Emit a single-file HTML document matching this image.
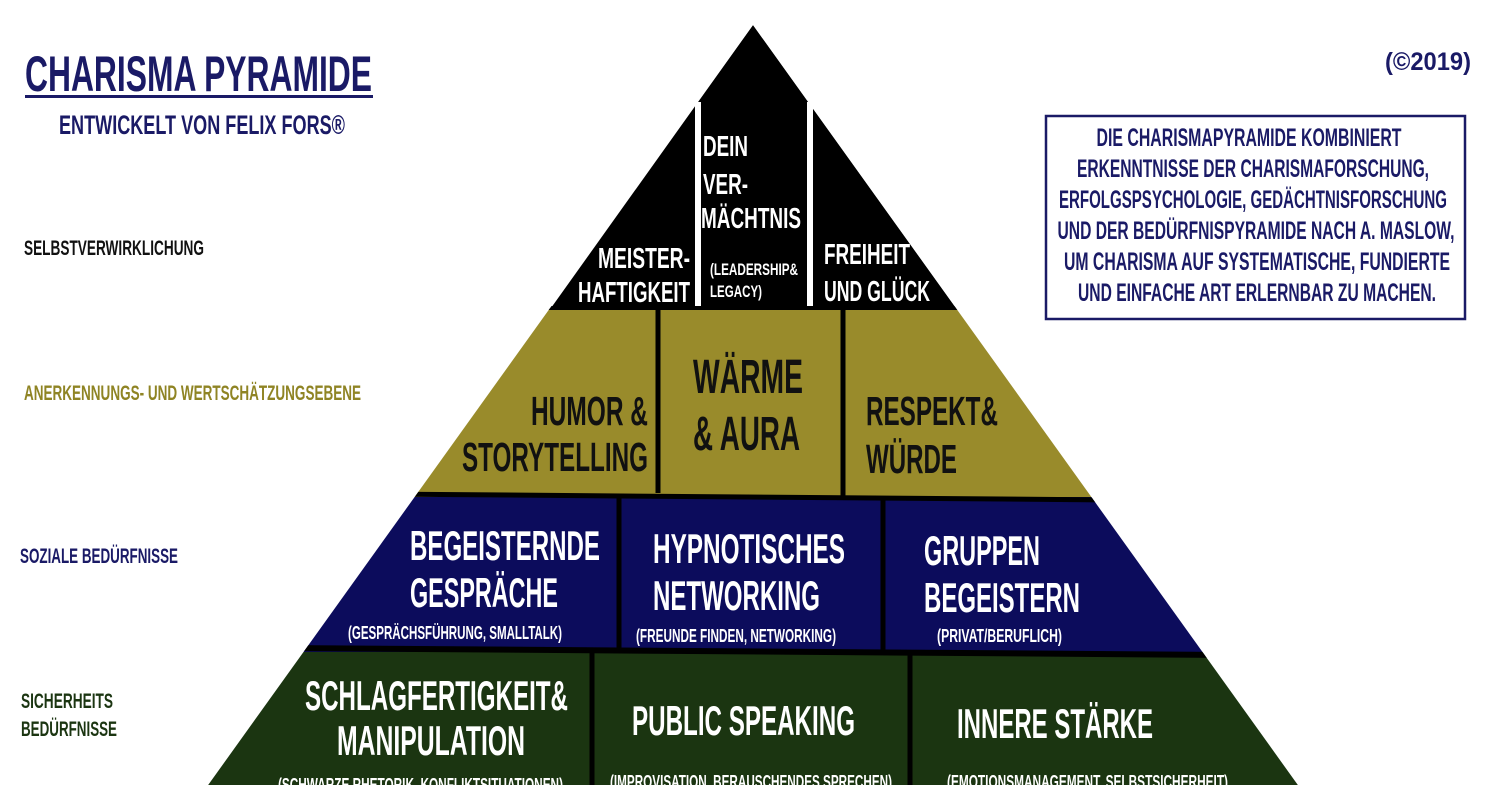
<!DOCTYPE html>
<html><head><meta charset="utf-8"><style>
html,body{margin:0;padding:0;background:#fff;}
svg{display:block;}
text{font-family:"Liberation Sans Narrow","Liberation Sans",sans-serif;font-weight:bold;}
</style></head><body>
<svg width="1500" height="785" viewBox="0 0 1500 785" xmlns="http://www.w3.org/2000/svg">
<defs><clipPath id="pyr"><polygon points="753,25 1300,788 206,788"/></clipPath></defs>
<g clip-path="url(#pyr)">
<polygon points="753,25 551,308 956,308" fill="#000"/>
<polygon points="530,308 976,308 1111,497 397,497" fill="#998b2b"/>
<polygon points="397,497 1111,497 1223,652 288,652" fill="#0c0c5c"/>
<polygon points="288,652 1223,652 1318,790 190,790" fill="#1b3511"/>
<line x1="500" y1="308" x2="1000" y2="308" stroke="#000" stroke-width="4"/>
<line x1="380" y1="494" x2="1120" y2="500" stroke="#000" stroke-width="5"/>
<line x1="280" y1="648" x2="1230" y2="655" stroke="#000" stroke-width="6"/>
</g>
<rect x="695" y="102" width="6" height="204" fill="#fff"/>
<rect x="807" y="102" width="6" height="204" fill="#fff"/>
<line x1="658" y1="308" x2="658" y2="493" stroke="#000" stroke-width="5"/>
<line x1="843" y1="308" x2="843" y2="496" stroke="#000" stroke-width="5"/>
<line x1="619" y1="495" x2="619" y2="648" stroke="#000" stroke-width="5"/>
<line x1="883" y1="497" x2="883" y2="651" stroke="#000" stroke-width="5"/>
<line x1="592" y1="650" x2="592" y2="785" stroke="#000" stroke-width="5"/>
<line x1="910" y1="652" x2="910" y2="785" stroke="#000" stroke-width="5"/>

<g fill="#fff" font-size="29">
<text x="703" y="156" textLength="45" lengthAdjust="spacingAndGlyphs">DEIN</text>
<text x="703" y="194" textLength="45" lengthAdjust="spacingAndGlyphs">VER-</text>
<text x="701" y="228" textLength="100" lengthAdjust="spacingAndGlyphs">MÄCHTNIS</text>
<text x="598" y="268" textLength="92" lengthAdjust="spacingAndGlyphs">MEISTER-</text>
<text x="578" y="302" textLength="112" lengthAdjust="spacingAndGlyphs">HAFTIGKEIT</text>
<text x="824" y="264" textLength="86" lengthAdjust="spacingAndGlyphs">FREIHEIT</text>
<text x="824" y="301" textLength="106" lengthAdjust="spacingAndGlyphs">UND GLÜCK</text>
<text x="710" y="275" font-size="17" textLength="88" lengthAdjust="spacingAndGlyphs">(LEADERSHIP&amp;</text>
<text x="710" y="297" font-size="17" textLength="52" lengthAdjust="spacingAndGlyphs">LEGACY)</text>
</g>
<g fill="#111" font-size="41">
<text x="531" y="425" textLength="117" lengthAdjust="spacingAndGlyphs">HUMOR &amp;</text>
<text x="462" y="471" textLength="186" lengthAdjust="spacingAndGlyphs">STORYTELLING</text>
<text x="693" y="393" font-size="48" textLength="110" lengthAdjust="spacingAndGlyphs">WÄRME</text>
<text x="693" y="450" font-size="48" textLength="107" lengthAdjust="spacingAndGlyphs">&amp; AURA</text>
<text x="866" y="425" textLength="132" lengthAdjust="spacingAndGlyphs">RESPEKT&amp;</text>
<text x="866" y="473" textLength="91" lengthAdjust="spacingAndGlyphs">WÜRDE</text>
</g>
<g fill="#fff" font-size="42">
<text x="410" y="560" textLength="190" lengthAdjust="spacingAndGlyphs">BEGEISTERNDE</text>
<text x="410" y="607" textLength="148" lengthAdjust="spacingAndGlyphs">GESPRÄCHE</text>
<text x="348" y="639" font-size="18" textLength="214" lengthAdjust="spacingAndGlyphs">(GESPRÄCHSFÜHRUNG, SMALLTALK)</text>
<text x="653" y="563" textLength="192" lengthAdjust="spacingAndGlyphs">HYPNOTISCHES</text>
<text x="653" y="610" textLength="167" lengthAdjust="spacingAndGlyphs">NETWORKING</text>
<text x="636" y="642" font-size="18" textLength="200" lengthAdjust="spacingAndGlyphs">(FREUNDE FINDEN, NETWORKING)</text>
<text x="924" y="565" textLength="116" lengthAdjust="spacingAndGlyphs">GRUPPEN</text>
<text x="924" y="612" textLength="156" lengthAdjust="spacingAndGlyphs">BEGEISTERN</text>
<text x="937" y="642" font-size="18" textLength="125" lengthAdjust="spacingAndGlyphs">(PRIVAT/BERUFLICH)</text>
</g>
<g fill="#fff" font-size="42">
<text x="305" y="710" textLength="263" lengthAdjust="spacingAndGlyphs">SCHLAGFERTIGKEIT&amp;</text>
<text x="337" y="755" textLength="188" lengthAdjust="spacingAndGlyphs">MANIPULATION</text>
<text x="278" y="791" font-size="18" textLength="285" lengthAdjust="spacingAndGlyphs">(SCHWARZE RHETORIK, KONFLIKTSITUATIONEN)</text>
<text x="632" y="735" textLength="223" lengthAdjust="spacingAndGlyphs">PUBLIC SPEAKING</text>
<text x="610" y="788" font-size="18" textLength="282" lengthAdjust="spacingAndGlyphs">(IMPROVISATION, BERAUSCHENDES SPRECHEN)</text>
<text x="957" y="738" textLength="196" lengthAdjust="spacingAndGlyphs">INNERE STÄRKE</text>
<text x="947" y="788" font-size="18" textLength="281" lengthAdjust="spacingAndGlyphs">(EMOTIONSMANAGEMENT, SELBSTSICHERHEIT)</text>
</g>

<text x="25" y="91" font-size="50" fill="#1a1a66" textLength="347" lengthAdjust="spacingAndGlyphs">CHARISMA PYRAMIDE</text>
<rect x="25" y="95" width="348" height="3" fill="#1a1a66"/>
<text x="59" y="134" font-size="27" fill="#1a1a66" textLength="286" lengthAdjust="spacingAndGlyphs">ENTWICKELT VON FELIX FORS®</text>
<text x="24" y="255" font-size="21" fill="#111" textLength="180" lengthAdjust="spacingAndGlyphs">SELBSTVERWIRKLICHUNG</text>
<text x="24" y="400" font-size="21" fill="#8f8424" textLength="337" lengthAdjust="spacingAndGlyphs">ANERKENNUNGS- UND WERTSCHÄTZUNGSEBENE</text>
<text x="20" y="563" font-size="21" fill="#1a1a66" textLength="158" lengthAdjust="spacingAndGlyphs">SOZIALE BEDÜRFNISSE</text>
<text x="21" y="708" font-size="21" fill="#1b3511" textLength="92" lengthAdjust="spacingAndGlyphs">SICHERHEITS</text>
<text x="21" y="736" font-size="21" fill="#1b3511" textLength="96" lengthAdjust="spacingAndGlyphs">BEDÜRFNISSE</text>

<text x="1385" y="70" font-size="25" fill="#1a1a66" textLength="86" lengthAdjust="spacingAndGlyphs">(©2019)</text>
<rect x="1046" y="116" width="419" height="203" fill="none" stroke="#1a1a66" stroke-width="2.5"/>
<g fill="#1a1a66" font-size="25" text-anchor="middle">
<text x="1249" y="146" textLength="305" lengthAdjust="spacingAndGlyphs">DIE CHARISMAPYRAMIDE KOMBINIERT</text>
<text x="1253" y="177" textLength="352" lengthAdjust="spacingAndGlyphs">ERKENNTNISSE DER CHARISMAFORSCHUNG,</text>
<text x="1253" y="208" textLength="388" lengthAdjust="spacingAndGlyphs">ERFOLGSPSYCHOLOGIE, GEDÄCHTNISFORSCHUNG</text>
<text x="1256" y="239" textLength="397" lengthAdjust="spacingAndGlyphs">UND DER BEDÜRFNISPYRAMIDE NACH A. MASLOW,</text>
<text x="1257" y="270" textLength="386" lengthAdjust="spacingAndGlyphs">UM CHARISMA AUF SYSTEMATISCHE, FUNDIERTE</text>
<text x="1257" y="301" textLength="358" lengthAdjust="spacingAndGlyphs">UND EINFACHE ART ERLERNBAR ZU MACHEN.</text>
</g>
</svg>
</body></html>
